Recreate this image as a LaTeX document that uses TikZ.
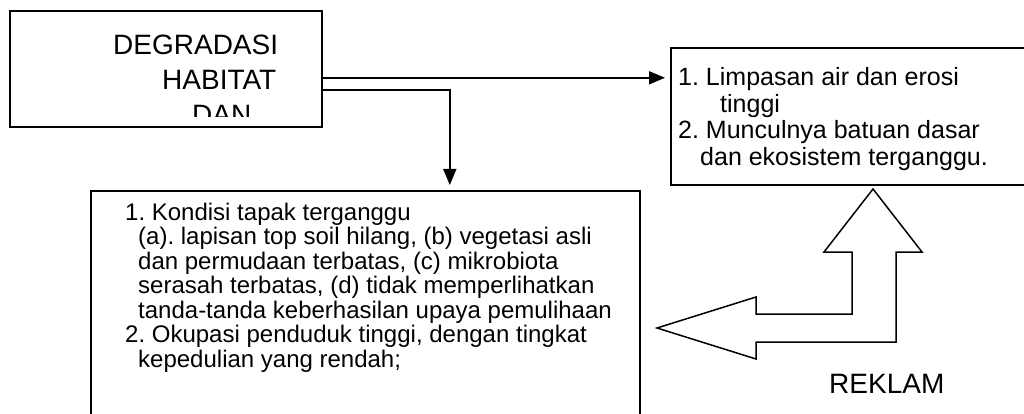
\documentclass[tikz,border=0pt]{standalone}
\usepackage{fontspec}
\setmainfont{Liberation Sans}
\frenchspacing
\usetikzlibrary{positioning, arrows.meta}

\begin{document}
\begin{tikzpicture}[
    x=1pt, y=-1pt,
    >={Triangle[length=16pt, width=13pt]},
    box/.style={draw=black, line width=1.6pt, rectangle, inner sep=0pt, anchor=north west},
    flow/.style={draw=black, line width=1.5pt, ->, shorten >=5pt},
    big/.style={font=\fontsize{28pt}{35pt}\selectfont, inner sep=0pt, anchor=base west},
    mid/.style={font=\fontsize{25pt}{26.5pt}\selectfont, inner sep=0pt, anchor=base west},
    listtxt/.style={font=\fontsize{24pt}{24pt}\selectfont, inner sep=0pt, anchor=base west},
  ]
  \useasboundingbox (0,0) rectangle (1024,414);
  \clip (0,0) rectangle (1024,414);

  % ----- boxes -----
  \node[box, minimum width=312pt, minimum height=116pt] (degr) at (9,10) {};
  \node[box, minimum width=370pt, minimum height=137pt] (erosi) at (670,47) {};
  \node[box, minimum width=549pt, minimum height=240pt] (tapak) at (90,190) {};

  % ----- title, cut off by its box -----
  \begin{scope}
    \clip (degr.north west) rectangle ([yshift=11pt]degr.south east);
    \node[big] (degrtxt) at (113,55) {\begin{tabular}[t]{@{}l@{}}DEGRADASI\\\hspace*{49pt}HABITAT\\\hspace*{79pt}DAN\end{tabular}};
  \end{scope}

  % ----- lists -----
  \node[mid] (erositxt) at (678,86) {\begin{tabular}[t]{@{}l@{}}1. Limpasan air dan erosi\\\hspace*{42pt}tinggi\\2. Munculnya batuan dasar\\\hspace*{22pt}dan ekosistem terganggu.\end{tabular}};
  \node[listtxt] (tapaktxt) at (125,220) {\begin{tabular}[t]{@{}l@{}}1. Kondisi tapak terganggu\\
    \hspace*{13pt}(a). lapisan top soil hilang, (b) vegetasi asli\\
    \hspace*{13pt}dan permudaan terbatas, (c) mikrobiota\\
    \hspace*{13pt}serasah terbatas, (d) tidak memperlihatkan\\
    \hspace*{13pt}tanda-tanda keberhasilan upaya pemulihaan\\
    2. Okupasi penduduk tinggi, dengan tingkat\\
    \hspace*{13pt}kepedulian yang rendah;\end{tabular}};

  % ----- wiring -----
  \coordinate (j1) at ([yshift=-9pt]degr.east);
  \coordinate (j2) at ([yshift=-21pt]degr.east);
  \coordinate (drop) at ([xshift=84.5pt]tapak.north);
  \draw[flow] (j1) -- (j1 -| erosi.west);   % degr -> erosi
  \draw[flow] (j2) -| (drop);               % degr -> tapak

  % ----- bent hollow arrow -----
  \draw[line width=1.5pt, line join=miter]
    (657,328) -- (756,297) -- (756,314) -- (852,314) -- (852,252) -- (824,252)
    -- (873,189) -- (922,252) -- (896,252) -- (896,342) -- (756,342) -- (756,359) -- cycle;
  \node[big] (reklam) at (829,393) {REKLAM};

\end{tikzpicture}
\end{document}
